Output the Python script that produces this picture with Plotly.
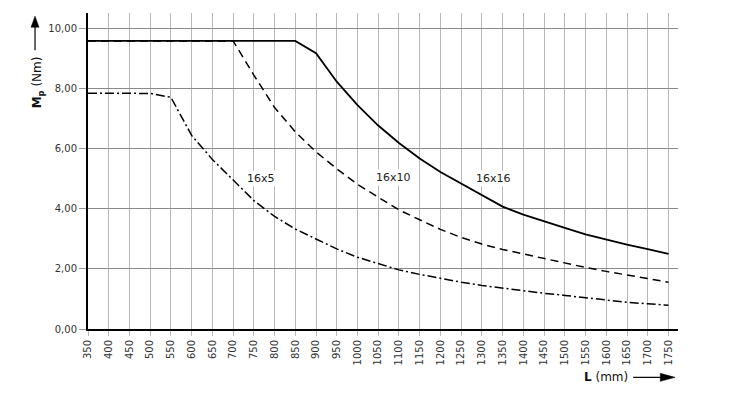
import plotly.graph_objects as go

L_mm = [350, 400, 450, 500, 550, 600, 650, 700, 750, 800, 850, 900, 950, 1000,
        1050, 1100, 1150, 1200, 1250, 1300, 1350, 1400, 1450, 1500, 1550, 1600,
        1650, 1700, 1750]

mp_16x16 = [9.6, 9.6, 9.6, 9.6, 9.6, 9.6, 9.6, 9.6, 9.6, 9.6, 9.6, 9.19, 8.24, 7.46,
            6.78, 6.2, 5.68, 5.23, 4.85, 4.46, 4.08, 3.81, 3.58, 3.37, 3.15, 2.97,
            2.81, 2.66, 2.5]
mp_16x10 = [9.6, 9.6, 9.6, 9.6, 9.6, 9.6, 9.6, 9.6, 8.46, 7.38, 6.57, 5.9, 5.34, 4.82,
            4.39, 3.97, 3.64, 3.32, 3.05, 2.83, 2.65, 2.5, 2.33, 2.18, 2.05, 1.92,
            1.8, 1.68, 1.56]
mp_16x5 = [7.86, 7.86, 7.86, 7.85, 7.72, 6.45, 5.65, 4.95, 4.28, 3.75, 3.33, 3.0, 2.67, 2.39,
           2.18, 1.97, 1.82, 1.68, 1.56, 1.45, 1.36, 1.27, 1.19, 1.12, 1.04, 0.95,
           0.89, 0.84, 0.79]

series_names = ["16x16", "16x10", "16x5"]
label_x = [1329, 1086, 768]
label_y = [5.0, 5.04, 5.03]

y_ticks = [0, 2, 4, 6, 8, 10]

fig = go.Figure()
styles = [
    dict(color="black", width=1.8, dash="solid"),
    dict(color="black", width=1.5, dash="8px,5px"),
    dict(color="black", width=1.5, dash="9px,3px,2px,3px"),
]
for name, ys, st in zip(series_names, [mp_16x16, mp_16x10, mp_16x5], styles):
    fig.add_trace(go.Scatter(x=L_mm, y=ys, mode="lines", name=name, line=st,
                             showlegend=False, hoverinfo="skip"))

for name, lx, ly in zip(series_names, label_x, label_y):
    fig.add_annotation(x=lx, y=ly, text=name, showarrow=False, bgcolor="white",
                       font=dict(family="DejaVu Sans", size=11, color="#222"),
                       borderpad=1)

# axis titles
fig.add_annotation(xref="paper", yref="paper", x=-0.085, y=0.78,
                   xanchor="center", yanchor="middle",
                   text="<b>M<sub>p</sub></b> (Nm)", textangle=-90, showarrow=False,
                   font=dict(family="DejaVu Sans", size=12, color="#111"))
fig.add_annotation(xref="paper", yref="paper", x=0.878, y=-0.153,
                   xanchor="center", yanchor="middle",
                   text="<b>L</b> (mm)", showarrow=False,
                   font=dict(family="DejaVu Sans", size=12, color="#111"))

# arrows as shapes (paper coordinates)
ax_x = -0.0898
fig.add_shape(type="line", xref="paper", yref="paper", x0=ax_x, x1=ax_x,
              y0=0.882, y1=0.96, line=dict(color="black", width=1.2))
fig.add_shape(type="path", xref="paper", yref="paper",
              path=f"M {ax_x-0.0068},0.955 L {ax_x+0.0068},0.955 L {ax_x},0.99 Z",
              fillcolor="black", line=dict(color="black", width=0.5))
ay_y = -0.153
fig.add_shape(type="line", xref="paper", yref="paper", x0=0.924, x1=0.975,
              y0=ay_y, y1=ay_y, line=dict(color="black", width=1.2))
fig.add_shape(type="path", xref="paper", yref="paper",
              path=f"M 0.97,{ay_y-0.0127} L 0.97,{ay_y+0.0127} L 0.995,{ay_y} Z",
              fillcolor="black", line=dict(color="black", width=0.5))

fig.update_layout(
    width=742, height=388,
    margin=dict(l=80, r=72, t=5, b=67),
    paper_bgcolor="white", plot_bgcolor="white",
    separators=",.",
    font=dict(family="DejaVu Sans", size=10, color="#333"),
)
fig.update_xaxes(range=[350, 1773], tickvals=L_mm, tickangle=-90,
                 showgrid=True, gridcolor="#b8b8b8", gridwidth=1,
                 ticks="outside", ticklen=5, tickcolor="#b8b8b8",
                 showline=True, linecolor="black", linewidth=2,
                 zeroline=False, tickfont=dict(size=10, color="#333"))
fig.update_yaxes(range=[0, 10.53], tickvals=y_ticks, tickformat=".2f",
                 showgrid=True, gridcolor="#8a8a8a", gridwidth=1,
                 ticks="outside", ticklen=7, tickcolor="#9a9a9a",
                 showline=True, linecolor="black", linewidth=2,
                 zeroline=False, tickfont=dict(size=10, color="#333"))

fig.write_html("out.html")
